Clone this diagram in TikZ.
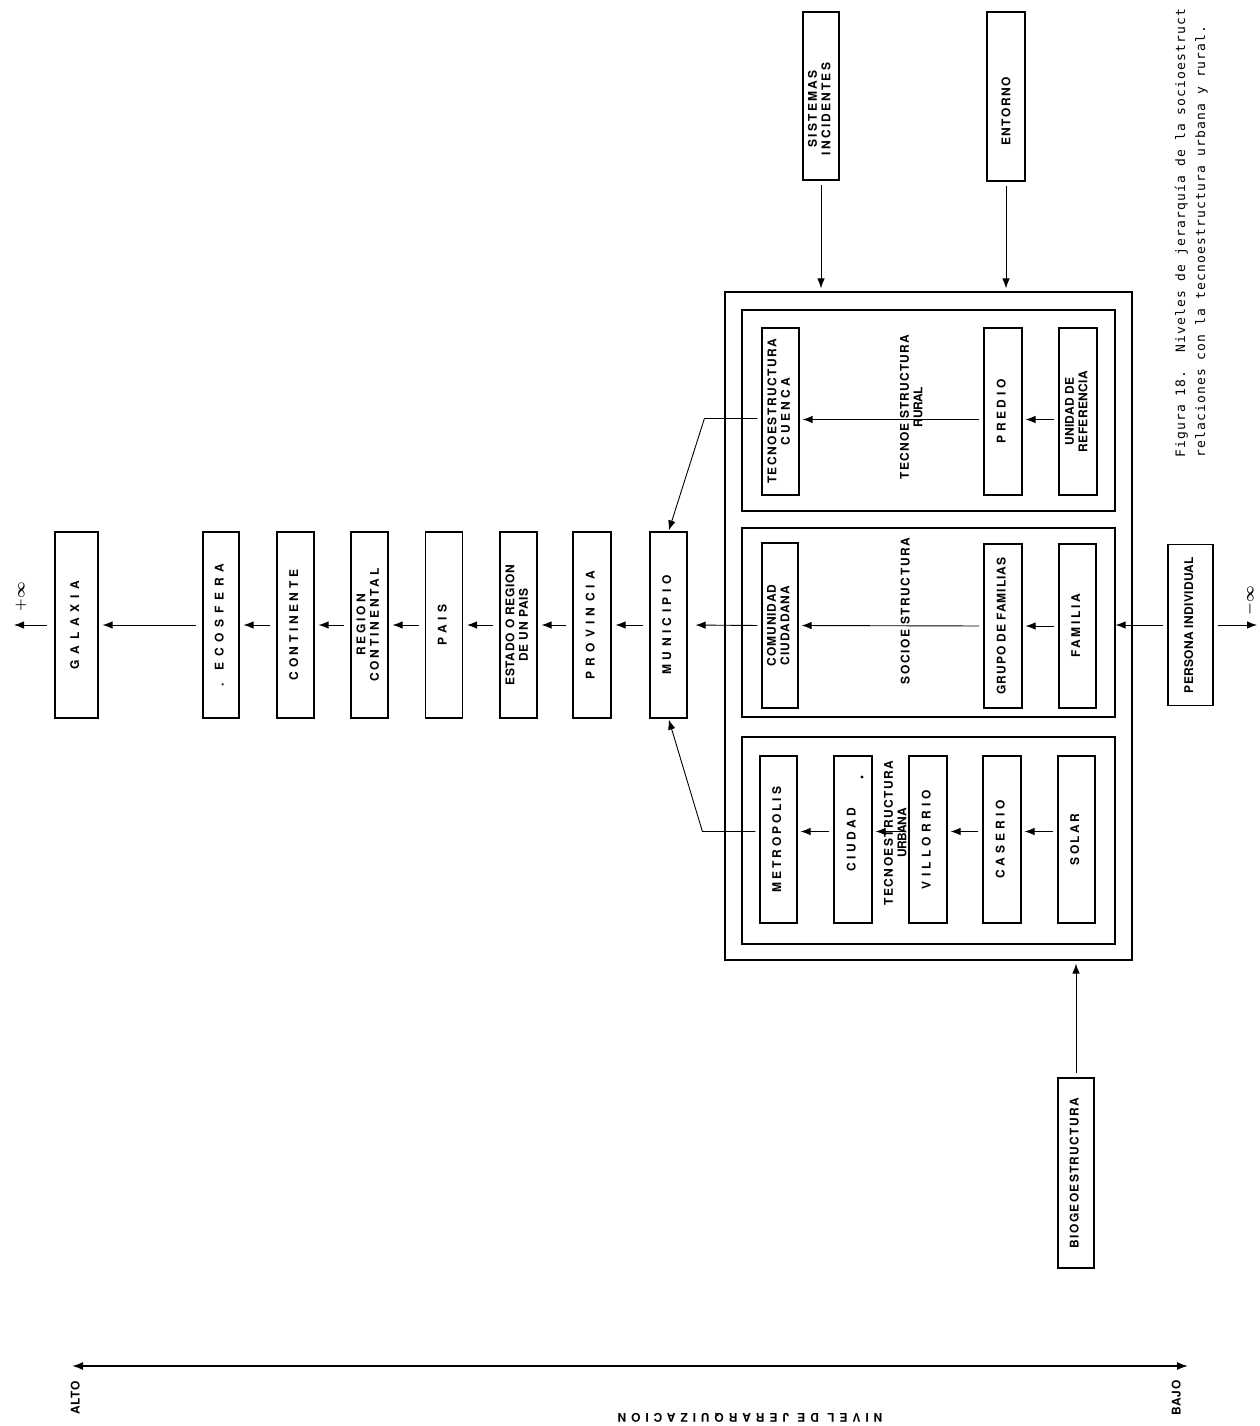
\documentclass[tikz,border=0pt]{standalone}
\usepackage{fontspec}
\usepackage{graphicx}
\usepackage{tikz}
\usetikzlibrary{arrows.meta,calc}
\newfontfamily\boxfont{TeX Gyre Heros}
\newfontfamily\capfont[LetterSpace=9]{DejaVu Sans Mono}
\newcommand\ls[1]{\addfontfeature{LetterSpace=#1}}
\newcommand\up[2][0]{\rotatebox{90}{\ls{#1}\begin{tabular}{@{}c@{}}#2\end{tabular}}}

\begin{document}
\begin{tikzpicture}[x=1pt, y=-1pt,
  lvl/.style={draw, line width=1.2pt, inner sep=0pt, minimum width=37pt, minimum height=167pt,
    font=\boxfont\bfseries\fontsize{12}{13.5}\selectfont},
  chain/.style={lvl, minimum height=186pt},
  shell/.style={draw, line width=1.2pt, inner sep=0pt, minimum width=373pt},
  tag/.style={inner sep=0pt, font=\boxfont\bfseries\fontsize{12}{13.5}\selectfont},
  captxt/.style={inner sep=0pt, rotate=90, anchor=base west, font=\capfont\fontsize{13}{15}\selectfont},
  arr/.style={line width=0.9pt, shorten <=4pt, shorten >=3pt, -{Latex[length=10pt,width=7.5pt]}}]
\useasboundingbox (0,0) rectangle (1260,1426);

% frames
\node[shell, minimum width=407pt, minimum height=668pt] (outer) at (928.5,626) {};
\node[shell, minimum height=201pt] (rural) at (928.5,410.5) {};
\node[shell, minimum height=189pt] (socio) at (928.5,622.5) {};
\node[shell, minimum height=207pt] (urbana) at (928.5,840.5) {};

% inputs
\node[lvl, minimum width=36pt, minimum height=168pt] (sist) at (821,96)
  {\rotatebox{90}{\ls{18}\begin{tabular}{@{}c@{}}SISTEMAS\\INCIDENTES\end{tabular}\hspace{26pt}}};
\node[lvl, minimum width=38pt, minimum height=169pt] (ent) at (1006,96.5)
  {\rotatebox{90}{\ls{12}ENTORNO\hspace{30pt}}};
\node[lvl, minimum width=36pt, minimum height=190pt] (biogeo) at (1076,1173) {\up[11]{BIOGEOESTRUCTURA}};
\node[lvl, minimum width=45pt, minimum height=161pt] (persona) at (1190.5,625) {\up[3]{PERSONA INDIVIDUAL}};

% tecnoestructura rural
\node[lvl] (cuenca) at (780.5,411.5) {\up[12]{TECNOESTRUCTURA\\\ls{27}CUENCA}};
\node[tag] (ruraltxt) at (913,407) {\up[10]{TECNOE STRUCTURA\\\ls{-3}RURAL}};
\node[lvl, minimum width=38pt] (predio) at (1003,411.5) {\up[30]{PREDIO}};
\node[lvl, minimum width=38pt] (unidad) at (1078,411.5) {\up[3]{UNIDAD DE\\REFERENCIA}};

% socioestructura
\node[lvl, minimum width=36pt, minimum height=165pt] (comun) at (780,625.5) {\up[8]{COMUNIDAD\\CIUDADANA}};
\node[tag] (sociotxt) at (907,611) {\up[13]{SOCIOE STRUCTURA}};
\node[lvl, minimum width=38pt, minimum height=164pt] (grupo) at (1003,626) {\up[8]{GRUPO DE FAMILIAS}};
\node[lvl, minimum height=164pt] (familia) at (1077.5,626) {\up[22]{FAMILIA}};

% tecnoestructura urbana
\node[lvl] (metro) at (778.5,839.5) {\up[24]{METROPOLIS}};
\node[lvl, minimum width=38pt] (ciudad) at (853,839.5) {\up[30]{CIUDAD}};
\node[lvl, minimum width=38pt] (villo) at (928,839.5) {\up[36]{VILLORRIO}};
\node[lvl, minimum width=38pt] (caserio) at (1002,839.5) {\up[34]{CASERIO}};
\node[lvl] (solar) at (1076.5,839.5) {\up[19]{SOLAR}};
\node[tag] (urbtxt) at (897,833) {\up[12]{TECNOESTRUCTURA\\\ls{-3}URBANA}};
\fill (862,777) circle (1.6pt);

% escala de niveles
\node[chain, minimum width=43pt] (galaxia) at (76.5,625) {\up[48]{GALAXIA}};
\node[chain, minimum width=36pt] (ecos) at (221,625) {\up[48]{. ECOSFERA}};
\node[chain] (conti) at (295.5,625) {\up[30]{CONTINENTE}};
\node[chain] (region) at (369.5,625) {\up[24]{REGION\\CONTINENTAL}};
\node[chain] (pais) at (444,625) {\up[40]{PAIS}};
\node[chain] (estado) at (518.5,625) {\up[6]{ESTADO O REGION\\DE UN PAIS}};
\node[chain, minimum width=38pt] (prov) at (592,625) {\up[44]{PROVINCIA}};
\node[chain] (muni) at (668.5,625) {\up[37]{MUNICIPIO}};

\coordinate (pinf) at (14,625);
\coordinate (minf) at (1257,625);
\node[tag] (plus) at (21,597) {\rotatebox{90}{\boldmath\Large$+\infty$}};
\node[tag] (minus) at (1250,601) {\rotatebox{90}{\boldmath\Large$-\infty$}};

% conexiones
\draw[arr] (sist.south) -- (sist.south |- outer.north);
\draw[arr] (ent.south) -- (ent.south |- outer.north);
\draw[arr] (biogeo.north) -- (biogeo.north |- outer.south);
\draw[arr, shorten >=0pt] (persona.west) -- (persona.west -| socio.east);
\draw[arr, shorten >=0pt] (persona.east) -- (minf);

\draw[arr] ([yshift=-8pt]unidad.west) -- ([yshift=-8pt]predio.east);
\draw[arr] ([yshift=-8pt]predio.west) -- ([yshift=-8pt]cuenca.east);
\draw[arr] (familia.west) -- (grupo.east);
\draw[arr] (grupo.west) -- (comun.east);
\foreach \a/\b in {solar/caserio,caserio/villo,villo/ciudad,ciudad/metro}
  \draw[arr] ([yshift=8pt]\a.west) -- ([yshift=8pt]\b.east);

\draw[arr, shorten >=1pt] ([yshift=-7pt]cuenca.west) -- ++(-57,0) -- (muni.north);
\draw[arr, shorten >=1pt] ([yshift=8pt]metro.west) -- ++(-57,0) -- (muni.south);
\draw[arr, shorten >=8pt] (comun.west) -- (muni.east);
\foreach \a/\b in {ecos/galaxia,conti/ecos,region/conti,pais/region,estado/pais,prov/estado,muni/prov}
  \draw[arr, shorten <=6pt, shorten >=4pt] (\a.west) -- (\b.east);
\draw[arr, shorten <=7pt, shorten >=0pt] (galaxia.west) -- (pinf);

% eje de jerarquizacion
\coordinate (alto) at (72,1366);
\coordinate (bajo) at (1188,1366);
\draw[line width=1.6pt, {Latex[length=11pt,width=8pt]}-{Latex[length=11pt,width=8pt]}] (alto) -- (bajo);
\node[tag] (altotxt) at (77,1398) {\up[5]{ALTO}};
\node[tag] (bajotxt) at (1178,1398) {\up[5]{BAJO}};
\node[tag, rotate=180] (nivel) at (750,1418) {\ls{41}NIVEL DE JERARQUIZACION};

% leyenda
\begin{scope}
\clip (0,0) rectangle (1260,1426);
\node[captxt] (cap1) at (1185,458) {Figura 18.~~Niveles de jerarqu\'ia de la socioestruct};
\node[captxt] (cap2) at (1205,458) {relaciones con la tecnoestructura urbana y rural.};
\end{scope}
\end{tikzpicture}
\end{document}
